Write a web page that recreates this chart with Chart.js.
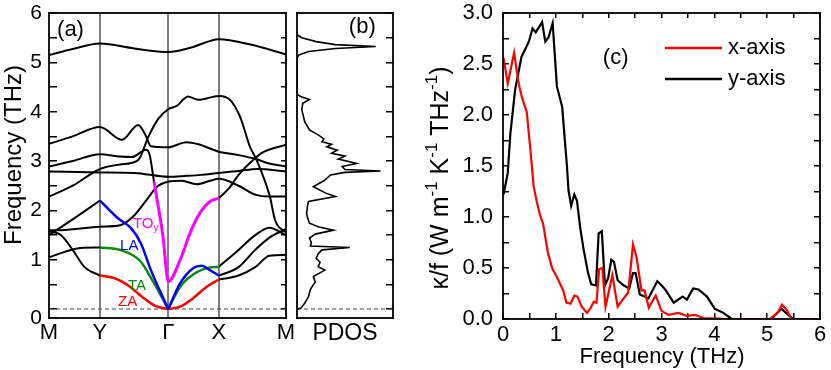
<!DOCTYPE html>
<html>
<head>
<meta charset="utf-8">
<script src="https://cdn.jsdelivr.net/npm/chart.js@4.4.0/dist/chart.umd.min.js"></script>
<style>
    body { margin: 0; background: #fff; width: 831px; height: 370px; overflow: hidden; position: relative; }
    .panel { position: absolute; top: 0; height: 370px; }
    #wrapA { left: 0; width: 300px; }
    #wrapB { left: 290px; width: 110px; }
    #wrapC { left: 420px; width: 411px; }
</style>
</head>
<body>
<div class="panel" id="wrapA"><canvas id="chartA"></canvas></div>
<div class="panel" id="wrapB"><canvas id="chartB"></canvas></div>
<div class="panel" id="wrapC"><canvas id="chartC"></canvas></div>
<script>
// ---- Panel (a): phonon bands, k-path position (0..1) vs frequency (THz)
const kPoints = [0, 0.215, 0.503, 0.717, 1];
const kLabels = ['M', 'Y', 'Γ', 'X', 'M'];
const freqTicks = [0, 1, 2, 3, 4, 5, 6];

const bandTop = [[0, 5.15], [0.1, 5.27], [0.215, 5.38], [0.36, 5.28], [0.503, 5.21], [0.6, 5.3], [0.717, 5.47], [0.85, 5.36], [1, 5.16]];
const bandA = [[0, 3.35], [0.1, 3.5], [0.215, 3.69], [0.308, 3.43], [0.376, 3.73], [0.405, 3.55], [0.43, 3.3], [0.503, 3.28], [0.58, 3.38], [0.63, 3.34], [0.717, 3.19], [0.8, 3.12], [0.873, 3.04], [0.93, 2.95], [1, 2.89]];
const bandB = [[0, 2.28], [0.1, 2.5], [0.215, 2.84], [0.3, 2.93], [0.376, 3.02], [0.42, 3.5], [0.46, 3.85], [0.503, 4.05], [0.54, 4.12], [0.565, 4.24], [0.586, 4.31], [0.63, 4.24], [0.717, 4.32], [0.764, 4.24], [0.806, 3.9], [0.848, 3.29], [0.876, 3.02], [0.932, 2.28], [0.954, 1.8], [1, 1.55]];
const bandC = [[0, 2.89], [0.1, 3.0], [0.215, 3.14], [0.3, 3.09], [0.35, 3.08], [0.41, 3.23], [0.425, 3.12], [0.443, 2.58]];
const bandTOy = [[0.443, 2.58], [0.481, 1.47], [0.503, 0.56], [0.553, 0.99], [0.595, 1.54], [0.637, 1.95], [0.679, 2.18], [0.717, 2.25]];
const bandCRight = [[0.717, 2.25], [0.76, 2.45], [0.8, 2.72], [0.85, 2.97], [0.9, 3.17], [1, 3.33]];
const bandD = [[0, 1.6], [0.05, 1.6], [0.215, 1.67], [0.3, 1.7], [0.354, 1.87], [0.413, 2.22], [0.456, 2.48], [0.503, 2.58], [0.56, 2.6], [0.623, 2.53], [0.68, 2.6], [0.717, 2.64], [0.8, 2.5], [0.87, 2.32], [0.93, 2.28], [1, 2.28]];
const bandE = [[0, 2.79], [0.215, 2.77], [0.36, 2.76], [0.503, 2.68], [0.58, 2.7], [0.64, 2.72], [0.717, 2.76], [0.8, 2.8], [0.88, 2.84], [1, 2.79]];

const laLeftBlack = [[0, 1.5], [0.1, 1.82], [0.215, 2.2]];
const laLeft = [[0.215, 2.2], [0.291, 1.84], [0.346, 1.64], [0.388, 1.33], [0.43, 0.79], [0.503, 0]];
const laRight = [[0.503, 0], [0.553, 0.52], [0.608, 0.83], [0.644, 0.88], [0.679, 0.79], [0.717, 0.68]];
const laRightBlack = [[0.717, 0.68], [0.8, 0.85], [0.87, 1.2], [0.93, 1.45], [1, 1.62]];

const taLeftBlack = [[0, 1.05], [0.06, 1.15], [0.12, 1.23], [0.215, 1.25]];
const taLeft = [[0.215, 1.25], [0.3, 1.2], [0.384, 0.98], [0.439, 0.56], [0.503, 0]];
const taRight = [[0.503, 0], [0.553, 0.45], [0.608, 0.7], [0.664, 0.83], [0.717, 0.86]];
const taRightBlack = [[0.717, 0.86], [0.8, 1.2], [0.87, 1.5], [0.93, 1.65], [1, 1.5]];

const zaLeftBlack = [[0, 1.58], [0.05, 1.5], [0.1, 1.2], [0.15, 0.85], [0.215, 0.68]];
const zaLeft = [[0.215, 0.68], [0.28, 0.62], [0.34, 0.46], [0.4, 0.22], [0.45, 0.06], [0.503, 0]];
const zaRight = [[0.503, 0], [0.553, 0.05], [0.608, 0.22], [0.664, 0.45], [0.717, 0.6]];
const zaRightBlack = [[0.717, 0.6], [0.8, 0.68], [0.87, 0.85], [0.93, 1.08], [1, 1.1]];

// ---- Panel (b): PDOS vs frequency
const pdosFreq = [0, 0.02, 0.12, 0.25, 0.4, 0.55, 0.66, 0.79, 0.86, 0.95, 1.03, 1.12, 1.2, 1.25, 1.28, 1.34, 1.44, 1.52, 1.6, 1.67, 1.74, 1.85, 1.94, 2.1, 2.18, 2.28, 2.35, 2.48, 2.6, 2.72, 2.77, 2.8, 2.83, 2.89, 2.95, 3.04, 3.1, 3.16, 3.22, 3.29, 3.34, 3.39, 3.45, 3.53, 3.63, 3.8, 4.04, 4.17, 4.25, 4.3, 4.34, 4.4, 5.1, 5.15, 5.22, 5.28, 5.32, 5.36, 5.42, 5.5, 5.56];
const pdosVal = [0, 0.04, 0.08, 0.12, 0.14, 0.19, 0.17, 0.29, 0.22, 0.24, 0.2, 0.22, 0.26, 0.55, 0.14, 0.15, 0.13, 0.19, 0.38, 0.22, 0.13, 0.11, 0.1, 0.11, 0.12, 0.4, 0.3, 0.17, 0.28, 0.35, 0.5, 0.87, 0.5, 0.47, 0.62, 0.43, 0.5, 0.36, 0.42, 0.31, 0.36, 0.26, 0.28, 0.22, 0.13, 0.08, 0.05, 0.06, 0.13, 0.05, 0.01, 0, 0, 0.02, 0.12, 0.4, 0.82, 0.4, 0.2, 0.05, 0];

// ---- Panel (c): kappa/f spectra
const xAxisFreq = [0.01, 0.09, 0.21, 0.3, 0.36, 0.45, 0.52, 0.58, 0.64, 0.7, 0.76, 0.85, 0.93, 1.05, 1.14, 1.2, 1.28, 1.35, 1.41, 1.49, 1.59, 1.66, 1.72, 1.77, 1.82, 1.88, 1.94, 2.07, 2.17, 2.28, 2.37, 2.46, 2.53, 2.62, 2.68, 2.76, 2.89, 3.0, 3.13, 3.32, 3.48, 3.64, 3.79, 4.3, 5.05, 5.21, 5.28, 5.37, 5.46, 6];
const xAxisVal = [2.56, 2.31, 2.61, 2.3, 2.17, 2.03, 1.65, 1.3, 1.15, 1.02, 0.93, 0.65, 0.5, 0.38, 0.28, 0.16, 0.15, 0.23, 0.22, 0.12, 0.06, 0.11, 0.17, 0.16, 0.49, 0.5, 0.12, 0.43, 0.12, 0.2, 0.26, 0.73, 0.6, 0.28, 0.28, 0.11, 0.23, 0.08, 0.04, 0.06, 0.03, 0.04, 0.01, 0, 0, 0.07, 0.14, 0.09, 0, 0];
const yAxisFreq = [0.01, 0.09, 0.14, 0.23, 0.35, 0.49, 0.56, 0.62, 0.74, 0.8, 0.86, 0.94, 1.02, 1.12, 1.21, 1.24, 1.29, 1.35, 1.4, 1.46, 1.52, 1.61, 1.67, 1.76, 1.81, 1.87, 1.93, 1.99, 2.05, 2.1, 2.17, 2.28, 2.39, 2.46, 2.51, 2.59, 2.68, 2.75, 2.92, 3.0, 3.07, 3.23, 3.4, 3.48, 3.6, 3.7, 3.86, 4.01, 4.17, 4.33, 5.08, 5.27, 5.49, 6];
const yAxisVal = [1.22, 1.43, 1.82, 2.25, 2.57, 2.72, 2.85, 2.81, 2.91, 2.72, 2.76, 2.9, 2.28, 2.08, 1.5, 1.26, 1.11, 1.22, 1.16, 0.9, 0.7, 0.45, 0.34, 0.33, 0.84, 0.86, 0.33, 0.4, 0.58, 0.56, 0.38, 0.33, 0.3, 0.45, 0.45, 0.24, 0.22, 0.2, 0.37, 0.33, 0.29, 0.16, 0.22, 0.19, 0.3, 0.29, 0.22, 0.1, 0.06, 0, 0, 0.1, 0, 0];
const kappaXTicks = [0, 1, 2, 3, 4, 5, 6];
const kappaYTicks = [0, 0.5, 1, 1.5, 2, 2.5, 3];

const FONT = "'Liberation Sans', Arial, Helvetica, sans-serif";
Chart.defaults.font.family = FONT;
Chart.defaults.color = '#000';

const RED = '#ff0000', GREEN = '#0a8a0a', BLUE = '#0000ff', MAGENTA = '#ff00ff', BLACK = '#000000';

// draw a string made of segments, some raised or lowered
function drawRich(ctx, segs, x, y, size, rot, color, align) {
    ctx.save();
    ctx.translate(x, y);
    ctx.rotate(rot || 0);
    ctx.fillStyle = color;
    ctx.textBaseline = 'middle';
    const fontOf = s => `${(s.sup || s.sub) ? Math.round(size * 0.68) : size}px ${FONT}`;
    let w = 0;
    segs.forEach(s => { ctx.font = fontOf(s); w += ctx.measureText(s.t).width; });
    let cx = align === 'center' ? -w / 2 : 0;
    segs.forEach(s => {
        ctx.font = fontOf(s);
        const dy = s.sup ? -size * 0.36 : (s.sub ? size * 0.32 : 0);
        ctx.fillText(s.t, cx, dy);
        cx += ctx.measureText(s.t).width;
    });
    ctx.restore();
}

function halfSteps(vals) {
    return vals.slice(1).map((v, i) => (v + vals[i]) / 2);
}

// frame, guide lines and labels (config kept in a closure)
function makeDecor(name, cfg) {
    return {
        id: 'decor' + name,
        beforeDatasetsDraw(chart) {
            const { ctx, chartArea: a, scales } = chart;
            ctx.save();
            ctx.fillStyle = '#000';
            (cfg.vlines || []).forEach(v => {
                const px = Math.round(scales.x.getPixelForValue(v));
                ctx.fillRect(px - 0.5, a.top, 1, a.height);
            });
            if (cfg.zeroLine) {
                const py = Math.round(scales[cfg.yId || 'y'].getPixelForValue(0));
                ctx.fillStyle = '#444';
                for (let x = a.left; x < a.right; x += 7) ctx.fillRect(x, py - 0.5, Math.min(4, a.right - x), 1);
            }
            ctx.restore();
        },
        afterDraw(chart) {
            const { ctx, chartArea: a, scales } = chart;
            ctx.save();
            ctx.fillStyle = '#000';
            const bw = 1.8;
            ctx.fillRect(a.left - bw / 2, a.top - bw / 2, a.width + bw, bw);
            ctx.fillRect(a.left - bw / 2, a.bottom - bw / 2, a.width + bw, bw);
            ctx.fillRect(a.left - bw / 2, a.top - bw / 2, bw, a.height + bw);
            ctx.fillRect(a.right - bw / 2, a.top - bw / 2, bw, a.height + bw);
            const ys = scales[cfg.yId || 'y'];
            (cfg.texts || []).forEach(t => drawRich(ctx, t.segs, scales.x.getPixelForValue(t.x), ys.getPixelForValue(t.y), t.size, 0, t.color || '#000', 'left'));
            (cfg.titles || []).forEach(t => drawRich(ctx, t.segs, t.cx, t.cy, t.size, t.rot || 0, '#000', 'center'));
            if (cfg.legend) {
                const L = cfg.legend;
                chart.data.datasets.forEach((d, i) => {
                    const yy = L.y + i * L.gap;
                    ctx.fillStyle = d.borderColor;
                    ctx.fillRect(L.x1, yy - 1.25, L.x2 - L.x1, 2.5);
                    drawRich(ctx, [{ t: d.label }], L.tx, yy, L.size, 0, '#000', 'left');
                });
            }
            ctx.restore();
        }
    };
}

function fixWidth(w) { return s => { s.width = w; s.paddingTop = 0; s.paddingBottom = 0; }; }
function fixHeight(h) { return s => { s.height = h; s.paddingLeft = 0; s.paddingRight = 0; }; }
function setTicks(vals) { return s => { s.ticks = vals.map(v => ({ value: v })); }; }

// inward tick marks drawn by the scale itself (negative tick length)
function inwardGrid(len) {
    return { display: true, drawOnChartArea: false, drawTicks: true, tickLength: -len, color: '#000', lineWidth: 1.5 };
}
const noGrid = () => ({ display: false, drawTicks: false });

function curve(points, color, width) {
    return {
        data: points.map(p => ({ x: p[0], y: p[1] })),
        showLine: true, borderColor: color, borderWidth: width,
        pointRadius: 0, cubicInterpolationMode: 'monotone', fill: false
    };
}

const FREQ_MIN = -0.18;
const freqAll = freqTicks.concat(halfSteps(freqTicks)).sort((p, q) => p - q);

// ---------- Panel (a)
new Chart(document.getElementById('chartA'), {
    type: 'scatter',
    data: {
        datasets: [
            curve(bandTOy, MAGENTA, 3),
            curve(laLeft, BLUE, 2.5), curve(laRight, BLUE, 2.5),
            curve(taLeft, GREEN, 2.5), curve(taRight, GREEN, 2.5),
            curve(zaLeft, RED, 2.5), curve(zaRight, RED, 2.5),
            curve(bandTop, BLACK, 2), curve(bandA, BLACK, 2), curve(bandB, BLACK, 2),
            curve(bandC, BLACK, 2), curve(bandCRight, BLACK, 2), curve(bandD, BLACK, 2),
            curve(bandE, BLACK, 2), curve(laLeftBlack, BLACK, 2), curve(laRightBlack, BLACK, 2),
            curve(taLeftBlack, BLACK, 2), curve(taRightBlack, BLACK, 2),
            curve(zaLeftBlack, BLACK, 2), curve(zaRightBlack, BLACK, 2)
        ]
    },
    options: {
        responsive: true,
        maintainAspectRatio: false,
        animation: false,
        layout: { padding: { top: 13, right: 14, left: 0, bottom: 0 } },
        plugins: { legend: { display: false }, tooltip: { enabled: false } },
        scales: {
            x: {
                type: 'linear', min: 0, max: 1, grid: noGrid(), border: { display: false },
                afterBuildTicks: setTicks(kPoints),
                afterFit: fixHeight(52),
                ticks: { font: { size: 22 }, padding: 2, maxRotation: 0, autoSkip: false, callback: (v, i) => kLabels[i] }
            },
            y: {
                type: 'linear', position: 'left', min: FREQ_MIN, max: 6,
                grid: inwardGrid(8), border: { display: false },
                afterBuildTicks: setTicks([FREQ_MIN].concat(freqAll)),
                afterFit: fixWidth(49),
                ticks: { font: { size: 21 }, padding: 15, autoSkip: false,
                    callback: v => (v < 0 ? '0' : (v > 0 && Number.isInteger(v) ? String(v) : '')) }
            },
            y2: {
                type: 'linear', position: 'right', min: FREQ_MIN, max: 6,
                grid: inwardGrid(5), border: { display: false },
                afterBuildTicks: setTicks(freqAll),
                afterFit: fixWidth(0),
                ticks: { display: false }
            }
        }
    },
    plugins: [makeDecor('A', {
        vlines: kPoints.slice(1, 4),
        zeroLine: true,
        texts: [
            { segs: [{ t: '(a)' }], x: 0.034, y: 5.65, size: 22 },
            { segs: [{ t: 'TO' }, { t: 'y', sub: true }], x: 0.354, y: 1.73, size: 15, color: MAGENTA },
            { segs: [{ t: 'LA' }], x: 0.30, y: 1.28, size: 15, color: BLUE },
            { segs: [{ t: 'TA' }], x: 0.333, y: 0.47, size: 15, color: GREEN },
            { segs: [{ t: 'ZA' }], x: 0.291, y: 0.15, size: 15, color: RED }
        ],
        titles: [
            { segs: [{ t: 'Frequency (THz)' }], cx: 14, cy: 155, size: 24, rot: -Math.PI / 2 }
        ]
    })]
});

// ---------- Panel (b)
new Chart(document.getElementById('chartB'), {
    type: 'scatter',
    data: {
        datasets: [{
            data: pdosFreq.map((f, i) => ({ x: pdosVal[i], y: f })),
            showLine: true, borderColor: BLACK, borderWidth: 1.6, pointRadius: 0, tension: 0, fill: false
        }]
    },
    options: {
        responsive: true,
        maintainAspectRatio: false,
        animation: false,
        layout: { padding: { top: 13, right: 7, left: 7, bottom: 0 } },
        plugins: { legend: { display: false }, tooltip: { enabled: false } },
        scales: {
            x: {
                type: 'linear', min: 0, max: 1, grid: noGrid(), border: { display: false },
                ticks: { display: false }, afterFit: fixHeight(52)
            },
            y: {
                type: 'linear', position: 'right', min: FREQ_MIN, max: 6,
                grid: inwardGrid(7), border: { display: false },
                afterBuildTicks: setTicks(freqAll),
                ticks: { display: false }, afterFit: fixWidth(0)
            }
        }
    },
    plugins: [makeDecor('B', {
        zeroLine: true,
        texts: [{ segs: [{ t: '(b)' }], x: 0.54, y: 5.71, size: 22 }],
        titles: [{ segs: [{ t: 'PDOS' }], cx: 55, cy: 334, size: 23 }]
    })]
});

// ---------- Panel (c)
const kappaXAll = kappaXTicks.concat(halfSteps(kappaXTicks)).sort((p, q) => p - q);
const kappaYAll = kappaYTicks.concat(halfSteps(kappaYTicks)).sort((p, q) => p - q);

new Chart(document.getElementById('chartC'), {
    type: 'scatter',
    data: {
        datasets: [
            {
                label: 'x-axis',
                data: xAxisFreq.map((f, i) => ({ x: f, y: xAxisVal[i] })),
                showLine: true, borderColor: RED, borderWidth: 2.2, pointRadius: 0, tension: 0, fill: false
            },
            {
                label: 'y-axis',
                data: yAxisFreq.map((f, i) => ({ x: f, y: yAxisVal[i] })),
                showLine: true, borderColor: BLACK, borderWidth: 2.2, pointRadius: 0, tension: 0, fill: false
            }
        ]
    },
    options: {
        responsive: true,
        maintainAspectRatio: false,
        animation: false,
        layout: { padding: { top: 13, right: 11, left: 0, bottom: 0 } },
        plugins: { legend: { display: false }, tooltip: { enabled: false } },
        scales: {
            x: {
                type: 'linear', position: 'bottom', min: 0, max: 6,
                grid: inwardGrid(6), border: { display: false },
                afterBuildTicks: setTicks(kappaXAll),
                afterFit: fixHeight(51),
                ticks: { font: { size: 22 }, padding: 9, maxRotation: 0, autoSkip: false,
                    callback: v => (Number.isInteger(v) ? String(v) : '') }
            },
            x2: {
                type: 'linear', position: 'top', min: 0, max: 6,
                grid: inwardGrid(5), border: { display: false },
                afterBuildTicks: setTicks(kappaXAll),
                afterFit: fixHeight(0),
                ticks: { display: false }
            },
            y: {
                type: 'linear', position: 'left', min: 0, max: 3,
                grid: inwardGrid(6), border: { display: false },
                afterBuildTicks: setTicks(kappaYAll),
                afterFit: fixWidth(83),
                ticks: { font: { size: 22 }, padding: 16, autoSkip: false,
                    callback: v => (kappaYTicks.includes(v) ? v.toFixed(1) : '') }
            },
            y2: {
                type: 'linear', position: 'right', min: 0, max: 3,
                grid: inwardGrid(6), border: { display: false },
                afterBuildTicks: setTicks(kappaYAll),
                afterFit: fixWidth(0),
                ticks: { display: false }
            }
        }
    },
    plugins: [makeDecor('C', {
        texts: [{ segs: [{ t: '(c)' }], x: 1.89, y: 2.56, size: 22 }],
        titles: [
            {
                segs: [{ t: 'κ/f (W m' }, { t: '-1', sup: true }, { t: ' K' }, { t: '-1', sup: true }, { t: ' THz' }, { t: '-1', sup: true }, { t: ')' }],
                cx: 21, cy: 178, size: 25, rot: -Math.PI / 2
            },
            { segs: [{ t: 'Frequency (THz)' }], cx: 242, cy: 357, size: 22 }
        ],
        legend: { x1: 245, x2: 302, tx: 308, y: 48, gap: 31, size: 22 }
    })]
});
</script>
</body>
</html>
